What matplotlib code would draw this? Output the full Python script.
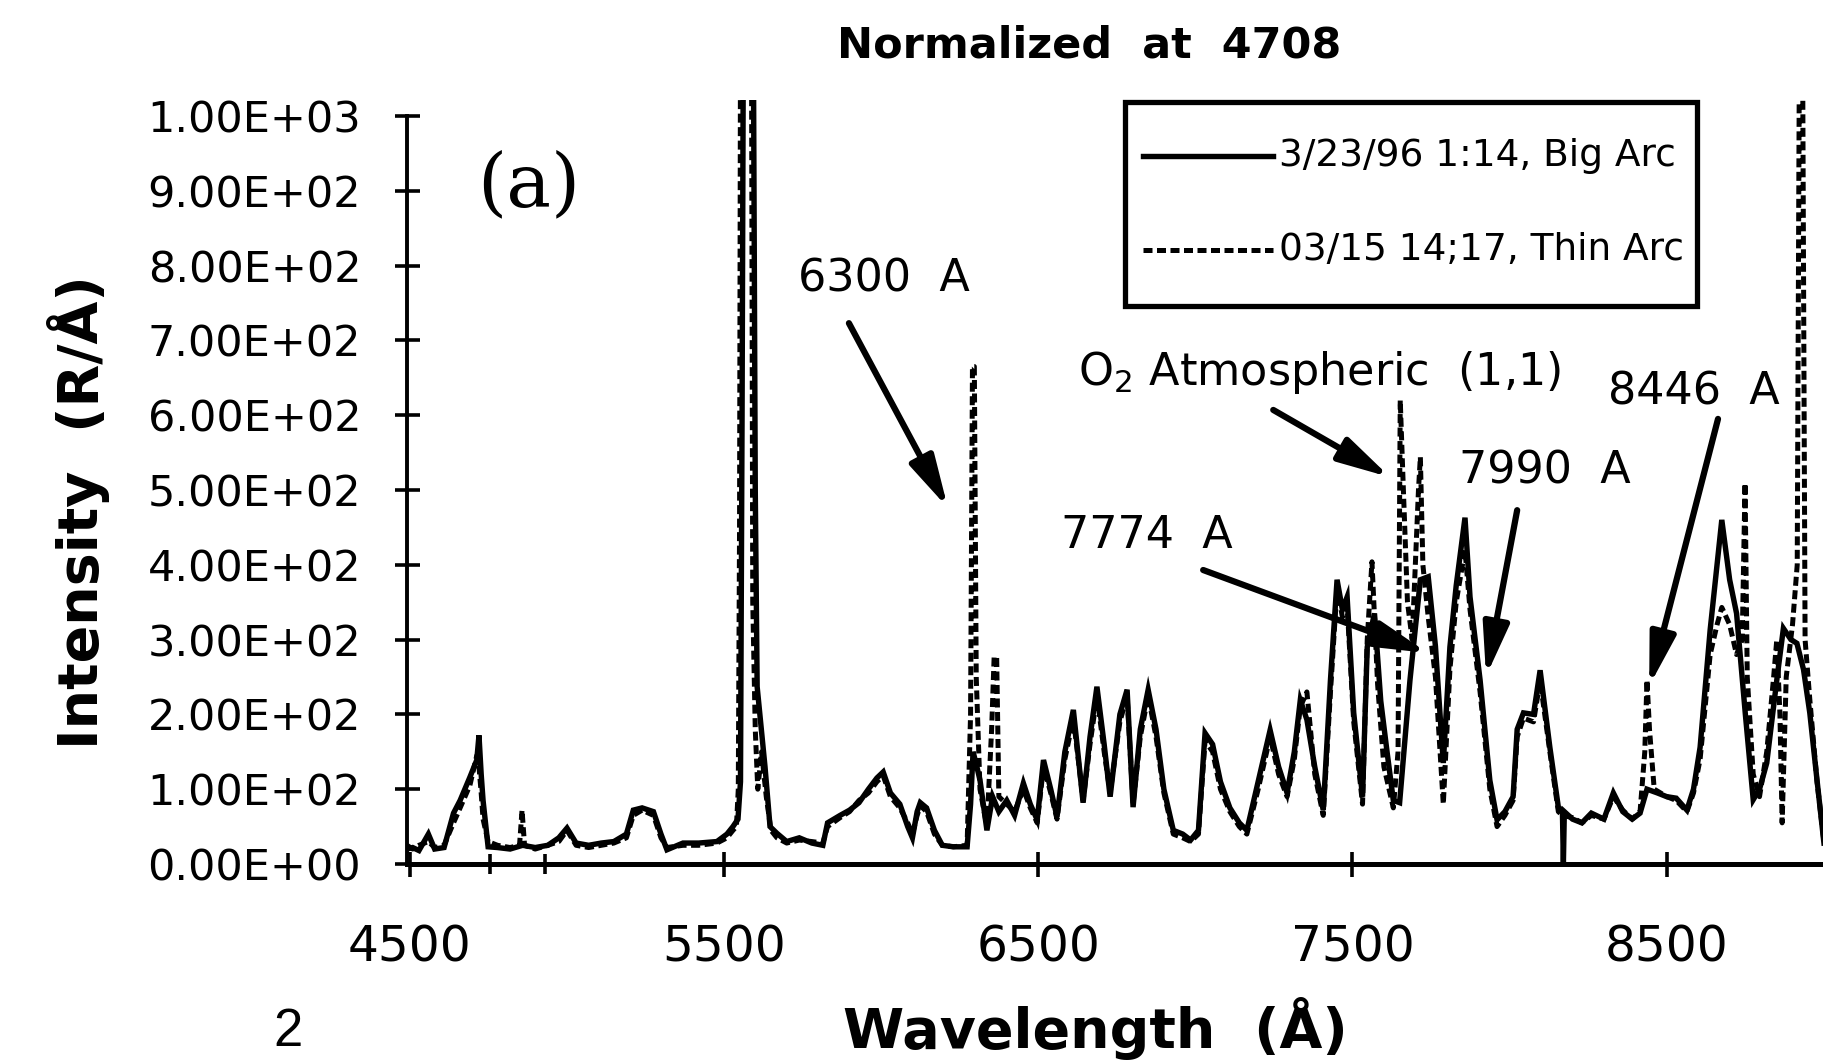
import matplotlib
matplotlib.use("Agg")
import matplotlib.pyplot as plt
from matplotlib.lines import Line2D
from matplotlib.patches import Rectangle
from matplotlib.ticker import FuncFormatter

plt.rcParams["font.family"] = ["DejaVu Sans"]

# ---------------- data ----------------
big_arc_wl = [4492, 4510, 4530, 4560, 4580, 4610, 4640, 4661, 4692, 4714, 4721, 4728, 4734, 4750,
              4780, 4820, 4860, 4900, 4940, 4975, 5001, 5030, 5070, 5110, 5150, 5190, 5212, 5240,
              5276, 5300, 5319, 5370, 5420, 5478, 5510, 5529, 5545, 5553, 5558, 5562, 5594, 5600,
              5606, 5631, 5647, 5669, 5700, 5740, 5780, 5815, 5830, 5870, 5900, 5930, 5960, 5987,
              6007, 6030, 6060, 6085, 6100, 6115, 6125, 6145, 6170, 6195, 6230, 6274, 6285, 6293,
              6305, 6315, 6337, 6355, 6375, 6400, 6425, 6453, 6475, 6497, 6517, 6540, 6560, 6585,
              6612, 6643, 6665, 6687, 6710, 6729, 6760, 6783, 6802, 6825, 6850, 6875, 6900, 6930,
              6960, 6985, 7010, 7031, 7055, 7080, 7110, 7140, 7164, 7200, 7238, 7265, 7292, 7315,
              7334, 7355, 7380, 7407, 7430, 7451, 7468, 7483, 7504, 7532, 7547, 7570, 7590, 7610,
              7630, 7650, 7683, 7716, 7741, 7764, 7789, 7810, 7830, 7858, 7874, 7906, 7937, 7960,
              7985, 8011, 8024, 8044, 8076, 8097, 8128, 8155, 8168, 8171, 8174, 8200, 8230, 8260,
              8300, 8330, 8360, 8390, 8415, 8437, 8470, 8500, 8530, 8564, 8585, 8606, 8638, 8660,
              8675, 8700, 8722, 8750, 8775, 8795, 8818, 8850, 8871, 8895, 8914, 8935, 8955, 8978,
              9000]
big_arc_int = [20, 22, 18, 40, 20, 22, 68, 85, 116, 139, 172, 120, 85, 23,
               22, 20, 25, 22, 25, 35, 48, 28, 25, 28, 30, 40, 72, 75,
               70, 40, 19, 28, 28, 30, 40, 50, 60, 110, 600, 1100, 1100, 500,
               237, 130, 50, 41, 30, 35, 28, 25, 55, 65, 72, 82, 100, 115,
               123, 95, 80, 50, 35, 70, 82, 75, 45, 25, 23, 23, 80, 150,
               130, 112, 45, 90, 70, 85, 65, 108, 80, 59, 139, 100, 63, 150,
               206, 82, 170, 237, 160, 90, 200, 233, 76, 180, 233, 180, 100, 45,
               40, 32, 45, 175, 160, 110, 75, 55, 45, 110, 179, 130, 95, 150,
               219, 193, 130, 72, 246, 380, 340, 357, 202, 90, 290, 335, 218, 150,
               85, 82, 246, 380, 384, 291, 135, 290, 372, 463, 357, 246, 112, 59,
               70, 90, 180, 202, 200, 259, 156, 76, 70, 0, 70, 60, 55, 68,
               60, 95, 70, 60, 68, 100, 95, 90, 88, 72, 100, 156, 313, 400,
               460, 380, 335, 200, 86, 100, 135, 246, 315, 300, 295, 260, 202, 112,
               28]

thin_arc_wl = [4492, 4510, 4530, 4560, 4580, 4610, 4640, 4661, 4692, 4714, 4721, 4728, 4734, 4750,
               4780, 4820, 4850, 4858, 4866, 4900, 4940, 4975, 5001, 5030, 5070, 5110, 5150, 5190,
               5212, 5240, 5276, 5300, 5319, 5370, 5420, 5478, 5510, 5529, 5540, 5546, 5550, 5553,
               5588, 5592, 5600, 5608, 5620, 5635, 5650, 5669, 5700, 5740, 5780, 5815, 5830, 5870,
               5900, 5930, 5960, 5987, 6007, 6030, 6060, 6085, 6100, 6115, 6125, 6145, 6170, 6195,
               6230, 6274, 6285, 6291, 6297, 6303, 6315, 6337, 6352, 6360, 6368, 6375, 6400, 6425,
               6453, 6475, 6497, 6517, 6540, 6560, 6585, 6612, 6643, 6665, 6687, 6710, 6729, 6760,
               6783, 6802, 6825, 6850, 6875, 6900, 6930, 6960, 6985, 7010, 7031, 7055, 7080, 7110,
               7140, 7164, 7200, 7238, 7265, 7292, 7315, 7334, 7355, 7380, 7407, 7430, 7451, 7468,
               7483, 7504, 7532, 7547, 7562, 7580, 7600, 7630, 7645, 7652, 7662, 7675, 7690, 7710,
               7716, 7724, 7741, 7764, 7789, 7810, 7830, 7858, 7874, 7906, 7937, 7960, 7985, 8011,
               8024, 8044, 8076, 8097, 8128, 8155, 8168, 8200, 8230, 8260, 8300, 8330, 8360, 8390,
               8415, 8430, 8437, 8445, 8460, 8500, 8530, 8564, 8585, 8606, 8638, 8660, 8675, 8700,
               8722, 8740, 8749, 8756, 8775, 8795, 8818, 8840, 8850, 8860, 8867, 8880, 8900, 8915,
               8922, 8932, 8940, 8955, 8978, 9000]
thin_arc_int = [25, 20, 25, 30, 22, 25, 55, 75, 105, 145, 130, 95, 60, 30,
                25, 22, 25, 72, 25, 20, 25, 30, 45, 25, 22, 25, 28, 35,
                65, 72, 65, 35, 22, 25, 25, 28, 35, 45, 50, 100, 450, 1100,
                1100, 350, 180, 100, 150, 90, 45, 35, 28, 32, 30, 28, 50, 62,
                70, 85, 95, 110, 118, 90, 75, 55, 40, 65, 78, 70, 40, 25,
                23, 25, 200, 665, 665, 250, 100, 50, 180, 277, 277, 90, 80, 70,
                100, 75, 55, 130, 95, 60, 140, 195, 85, 160, 225, 150, 95, 190,
                225, 80, 170, 225, 170, 95, 40, 35, 30, 40, 165, 150, 100, 70,
                50, 40, 100, 170, 120, 90, 140, 210, 230, 120, 65, 230, 370, 330,
                345, 190, 80, 300, 404, 240, 130, 75, 150, 620, 500, 350, 300, 500,
                544, 400, 330, 250, 80, 260, 350, 420, 340, 230, 100, 50, 65, 85,
                170, 195, 190, 245, 150, 70, 65, 62, 55, 65, 60, 90, 72, 60,
                70, 150, 246, 180, 100, 90, 85, 70, 95, 140, 280, 320, 343, 320,
                280, 300, 509, 250, 120, 90, 150, 250, 300, 200, 55, 250, 320, 400,
                1100, 1100, 300, 220, 110, 30]

y_ticks = [0, 100, 200, 300, 400, 500, 600, 700, 800, 900, 1000]
x_ticks = [4500, 5500, 6500, 7500, 8500]
labels = ["3/23/96 1:14, Big Arc", "03/15 14;17, Thin Arc"]

# ---------------- figure ----------------
W, H = 1823, 1063
fig = plt.figure(figsize=(W / 100, H / 100), dpi=100)
fig.patch.set_facecolor("white")


def fx(px):
    return px / W


def fy(py):
    return 1 - py / H


ax = fig.add_axes([fx(407), fy(864), 1 - fx(407), fy(99.5) - fy(864)])
ax.set_xlim(4492, 8997)
ax.set_ylim(0, 1022)

solid_style = dict(color="black", lw=3.9, linestyle="-", solid_joinstyle="miter")
dash_style = dict(color="black", lw=3.6, linestyle=(0, (1.8, 0.9)))

ax.plot(big_arc_wl, big_arc_int, **solid_style, zorder=3)
ax.plot(thin_arc_wl, thin_arc_int, **dash_style, zorder=2)

for s in ["top", "right"]:
    ax.spines[s].set_visible(False)
ax.spines["left"].set_linewidth(2.8)
ax.spines["bottom"].set_linewidth(3.6)
ax.spines["left"].set_bounds(0, 1000)

ax.set_yticks(y_ticks)
ax.yaxis.set_major_formatter(FuncFormatter(lambda v, p: "%.2E" % v))
ax.set_xticks(x_ticks)
ax.set_xticks([4756, 4931], minor=True)
ax.tick_params(axis="y", direction="inout", length=18, width=2.6, pad=24, labelsize=31)
ax.tick_params(axis="x", which="major", direction="inout", length=18, width=2.6, pad=34,
               labelsize=35)
ax.tick_params(axis="x", which="minor", direction="inout", length=14, width=2.6)

# titles / labels
fig.text(fx(1089), fy(46), "Normalized  at  4708", ha="center", va="center",
         fontsize=31, fontweight="bold")
fig.text(fx(79), fy(512), "Intensity  (R/Å)", ha="center", va="center", rotation=90,
         fontsize=40, fontweight="bold")
fig.text(fx(1095), fy(1029), "Wavelength  (Å)", ha="center", va="center",
         fontsize=40, fontweight="bold")
fig.text(fx(288), fy(1032), "2", ha="center", va="center", fontsize=38,
         family="Liberation Sans")
fig.text(fx(529), fy(186), "(a)", ha="center", va="center", fontsize=54,
         family="DejaVu Serif")

# annotations
ann_font = dict(fontsize=32, ha="center", va="center")
fig.text(fx(884), fy(279), "6300  A", **ann_font)
fig.text(fx(1320), fy(372), "O$_2$ Atmospheric  (1,1)", **ann_font)
fig.text(fx(1147), fy(535), "7774  A", **ann_font)
fig.text(fx(1545), fy(471), "7990  A", **ann_font)
fig.text(fx(1694), fy(392), "8446  A", **ann_font)

arrow_kw = dict(arrowstyle="-|>,head_length=1.2,head_width=0.3", lw=4.5, color="black",
                mutation_scale=26, shrinkA=0, shrinkB=0)
arrows = [((6213, 476), (5898, 723)),
          ((7620, 517), (7248, 607)),
          ((7740, 282), (7025, 393)),
          ((7925, 251), (8024, 473)),
          ((8444, 238), (8663, 595))]
for tip, start in arrows:
    ax.annotate("", xy=tip, xytext=start, arrowprops=arrow_kw, zorder=5)

# legend box (manual, figure pixels)
fig.add_artist(Rectangle((fx(1125), fy(306)), fx(1697) - fx(1125), fy(102) - fy(306),
                         transform=fig.transFigure, fill=True, facecolor="white",
                         edgecolor="black", lw=3.8, zorder=10))
for row_y, style, lab in [(156, solid_style, labels[0]), (250, dash_style, labels[1])]:
    fig.add_artist(Line2D([fx(1143), fx(1273)], [fy(row_y), fy(row_y)],
                          transform=fig.transFigure, zorder=11, **style))
    fig.text(fx(1279), fy(row_y), lab, ha="left", va="center", fontsize=27, zorder=12)

fig.savefig("out.png", dpi=100, facecolor="white")
